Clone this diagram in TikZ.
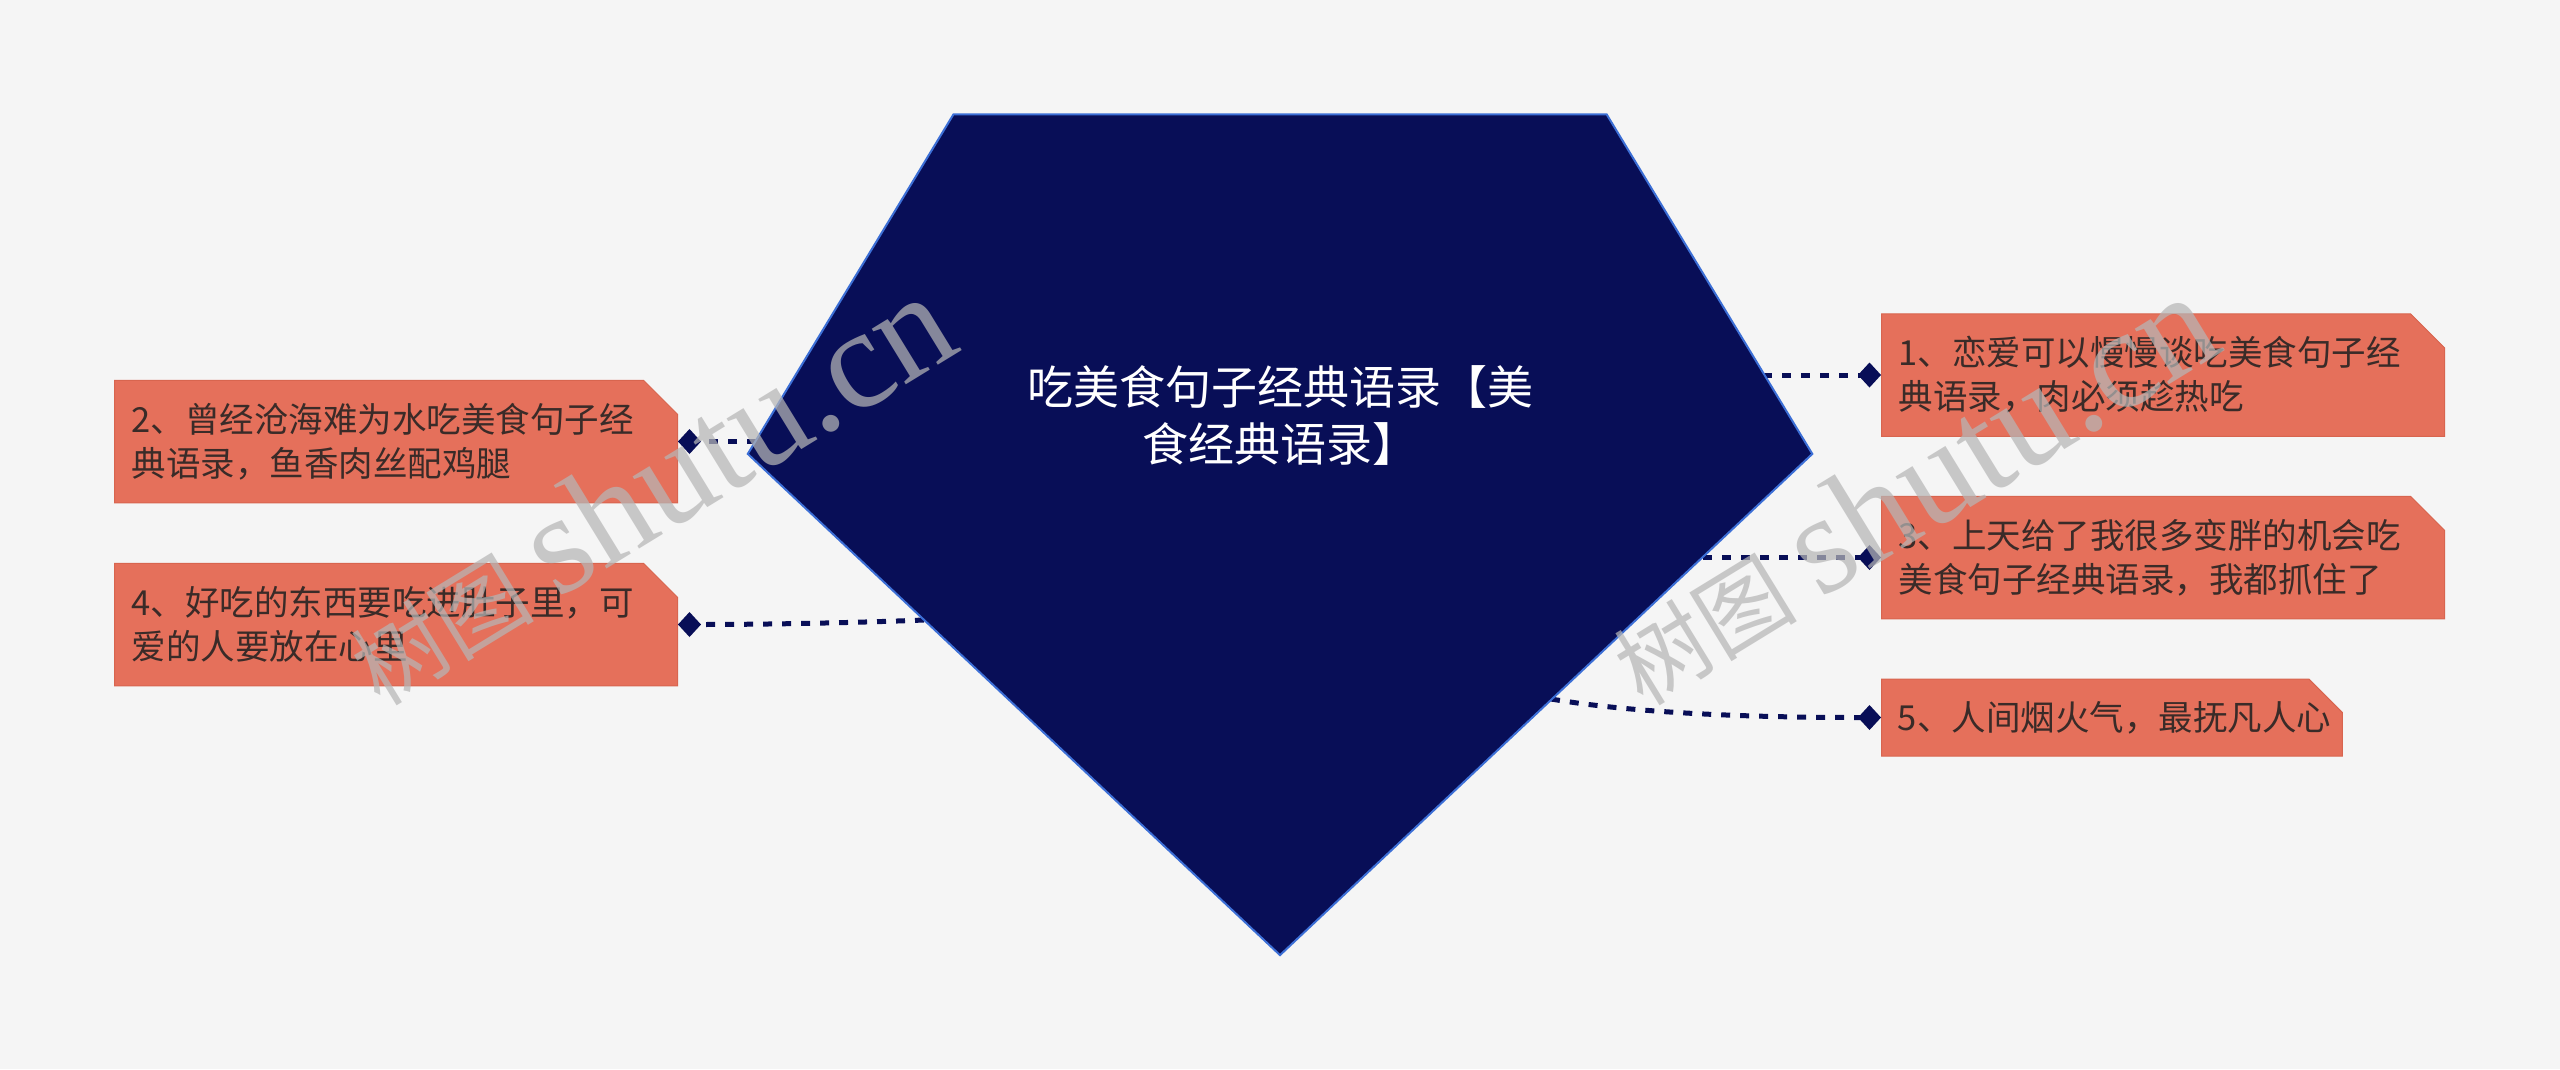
\documentclass[tikz,border=0pt]{standalone}
\usepackage{fontspec}
\newfontfamily\cjk{Noto Sans CJK SC}
\newfontfamily\wmlatin{Liberation Serif}
\usetikzlibrary{shapes.misc,arrows.meta}
\definecolor{bgc}{HTML}{F5F5F5}
\definecolor{navy}{HTML}{080E57}
\definecolor{pentedge}{HTML}{3C6FD6}
\definecolor{coral}{HTML}{E5705B}
\definecolor{coraledge}{HTML}{D8654F}
\definecolor{boxtext}{HTML}{3A2B28}
\definecolor{wmgray}{RGB}{182,182,182}
\tikzset{
  leafbox/.style={chamfered rectangle, chamfered rectangle corners=north east,
    chamfered rectangle xsep=17pt, chamfered rectangle ysep=17pt,
    fill=coral, draw=coraledge, line width=1pt, text=boxtext,
    font=\cjk\fontsize{34.5}{44}\selectfont, align=left,
    inner xsep=0pt, inner ysep=0pt, minimum height=122.5pt, text width=529pt},
  conn/.style={draw=navy, line width=5pt, dash pattern=on 9pt off 10pt,
    -{Diamond[length=23pt 0 0, width=25pt 0 0, sep=0pt]}},
  pent/.style={fill=navy, draw=pentedge, line width=2pt, line join=miter},
  titletext/.style={text=white, font=\cjk\fontsize{46}{57}\selectfont, align=center},
  wmark/.style={text=wmgray, opacity=0.72, rotate=31.5, anchor=base west, inner sep=0pt}
}
\begin{document}
\begin{tikzpicture}[x=1pt, y=-1pt]
\fill[bgc] (0,0) rectangle (2560,1069);
\useasboundingbox (0,0) rectangle (2560,1069);
% pentagon corners
\coordinate (p1) at (953.5,114.3);
\coordinate (p2) at (1606.6,114.3);
\coordinate (p3) at (1812.3,453.9);
\coordinate (p4) at (1280,955.1);
\coordinate (p5) at (747.8,453.9);
% attachment points on the pentagon edge
\coordinate (e1) at (1763,375);
\coordinate (e2) at (756,441.5);
\coordinate (e3) at (1703,557.5);
\coordinate (e4) at (924,620);
\coordinate (e5) at (1551,699);
% leaf boxes
\node[leafbox, anchor=west] (b1) at (1881,375) {1、恋爱可以慢慢谈吃美食句子经\\典语录，肉必须趁热吃};
\node[leafbox, anchor=east] (b2) at (678,441.5) {2、曾经沧海难为水吃美食句子经\\典语录，鱼香肉丝配鸡腿};
\node[leafbox, anchor=west] (b3) at (1881,557.5) {3、上天给了我很多变胖的机会吃\\美食句子经典语录，我都抓住了};
\node[leafbox, anchor=east] (b4) at (678,624.5) {4、好吃的东西要吃进肚子里，可\\爱的人要放在心里};
\node[leafbox, anchor=west, minimum height=77pt, text width=428pt] (b5) at (1881,717.5) {5、人间烟火气，最抚凡人心};
% connectors
\draw[conn] (e1) -- (b1.west);
\draw[conn] (e2) -- (b2.east);
\draw[conn] (e3) -- (b3.west);
\draw[conn] (e4) .. controls (850,623) and (760,624.5) .. (b4.east);
\draw[conn] (e5) .. controls (1640,714) and (1760,717.5) .. (b5.west);
% central pentagon
\draw[pent] (p1) -- (p2) -- (p3) -- (p4) -- (p5) -- cycle;
\node[titletext] (title) at (1280,415) {吃美食句子经典语录【美\\食经典语录】};
% watermarks
\node[wmark] (wm1) at (380,708) {{\cjk\fontsize{92}{92}\selectfont 树图}\hspace{24pt}{\wmlatin\fontsize{142}{142}\selectfont shutu.cn}};
\node[wmark] (wm2) at (1643,708) {{\cjk\fontsize{92}{92}\selectfont 树图}\hspace{24pt}{\wmlatin\fontsize{142}{142}\selectfont shutu.cn}};
\end{tikzpicture}
\end{document}
